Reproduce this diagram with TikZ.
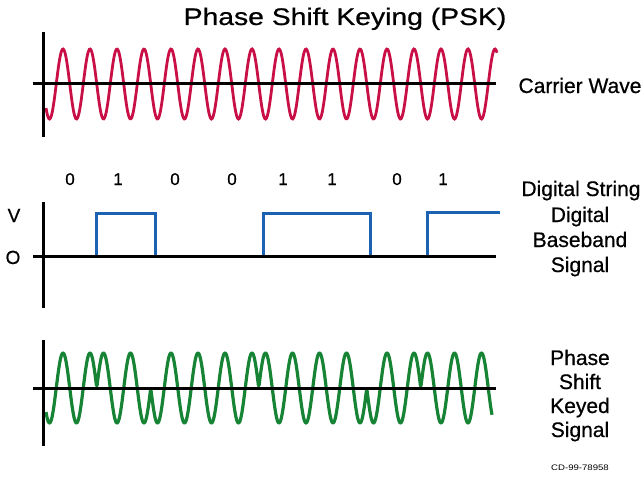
\documentclass[tikz,border=0pt]{standalone}
\usepackage{fontspec}
\setmainfont{Liberation Sans}
\newfontface\medfont{Liberation Sans}[FakeBold=0.6]
\usepackage{tikz}

\definecolor{carrierred}{RGB}{200,16,70}
\definecolor{basebandblue}{RGB}{28,98,178}
\definecolor{keyedgreen}{RGB}{22,132,52}
\tikzset{
  axisline/.style={line width=3pt},
  sidetext/.style={font=\medfont\fontsize{21}{25}\selectfont, align=center, anchor=base},
  bittext/.style={font=\medfont\fontsize{17}{20}\selectfont, anchor=base},
}

\begin{document}
\begin{tikzpicture}[x=1pt,y=-1pt]
  \useasboundingbox (0,0) rectangle (644,476);
  \node[anchor=base, font=\medfont\fontsize{24}{28}\selectfont, xscale=1.18] (title) at (345,25) {Phase Shift Keying (PSK)};

  % carrier
  \draw[carrierred, line width=2.8pt] plot[domain=46:497, samples=500] (\x,{84-35*sin(13.3333*(\x-56.25))});
  \draw[axisline] (43,32) -- (43,137);
  \draw[axisline] (33,84) -- (496,84);
  \node[sidetext] (carrier) at (580,93) {Carrier Wave};

  % digital string
  \foreach \b/\x in {0/70,1/118,0/175,0/232,1/283,1/332,0/397,1/443}
    \node[bittext] (bit\x) at (\x,185) {\b};
  \node[sidetext] (string) at (581,196) {Digital String};

  % baseband (base anchor = last line)
  \draw[basebandblue, line width=3pt] (96,256) -- (96,213) -- (155,213) -- (155,256);
  \draw[basebandblue, line width=3pt] (263,256) -- (263,213) -- (370,213) -- (370,256);
  \draw[basebandblue, line width=3pt] (427,256) -- (427,212) -- (500,212);
  \draw[axisline] (43,202) -- (43,308);
  \draw[axisline] (33,256) -- (496,256);
  \node[bittext, font=\medfont\fontsize{19}{22}\selectfont] (vhigh) at (14,222) {V};
  \node[bittext, font=\medfont\fontsize{19}{22}\selectfont] (vzero) at (13,264) {O};
  \node[sidetext] (baseband) at (580,272) {Digital\\Baseband\\Signal};

  % keyed signal
  \draw[keyedgreen, line width=3.2pt, line join=round] plot[domain=46:492, samples=700]
    (\x,{388-35*(1-2*((\x>96.75)*(\x<150.75)+(\x>258.75)*(\x<366.75)+(\x>420.75)))*sin(13.3333*(\x-56.25))});
  \draw[axisline] (43,340) -- (43,446);
  \draw[axisline] (33,388) -- (496,388);
  \node[sidetext, font=\medfont\fontsize{21}{24}\selectfont] (keyed) at (580,437) {Phase\\Shift\\Keyed\\Signal};
  \node[anchor=base, font=\fontsize{8}{10}\selectfont, xscale=1.2] (code) at (580,470) {CD-99-78958};
\end{tikzpicture}
\end{document}
